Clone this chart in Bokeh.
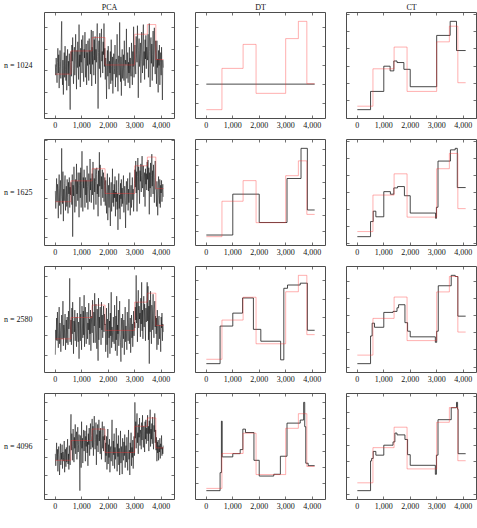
from bokeh.plotting import figure
from bokeh.layouts import gridplot
from bokeh.models import (LinearAxis, FixedTicker, BasicTicker, NumeralTickFormatter,
                          CustomJSTickFormatter, Range1d)
from bokeh.embed import file_html
from bokeh.resources import INLINE

# ---------------- data ----------------
col_titles = ["PCA", "DT", "CT"]
row_labels = ["n = 1024", "n = 1625", "n = 2580", "n = 4096"]
x_ticks = [0, 1000, 2000, 3000, 4000]
x_max = 4096

# true piecewise-constant signal (red)
truth_x = [0, 590, 1390, 1880, 3000, 3480, 3800, 4096]
truth_y = [-0.3, 1.85, 3.1, 0.55, 3.4, 4.3, 1.05, 1.05]

# PCA estimates (noisy), sampled every 16 positions
pca_step = 16
pca_1024 = [
    0.6, -0.4, 1.2, 0.3, -1.1, 0.8, 2.1, -0.2, 1.5, -1.6, 0.4, 1.9, 0.9, -0.7, 2.6, 4.6, 0.2, -1.3, 1.0, -2.2,
    0.5, 1.7, -0.6, 2.3, 0.1, -0.9, 1.4, -1.8, 0.7, 2.0, -0.3, 0.9, -1.4, 1.6, -0.1, -3.6, 0.8,
    1.8, -0.5, 2.4, 0.9, 3.1, 0.2, -1.2, 1.6, 2.2, -0.4, 1.1, 3.4, 0.6, -1.7, 1.9, 0.3, 2.7, 1.0, -0.8, 4.3,
    0.4, 1.5, -1.5, 2.1, 0.8, 2.9, -0.2, 1.3, 3.3, 0.0, -1.0, 2.0, 1.2, 3.6, -0.6, 0.7, 2.5, -1.3, 1.7, 0.5,
    2.8, 1.1, -0.9, 3.0, 0.6, 1.9, -0.3, 2.3, 3.8, -1.4,
    2.2, 0.6, 3.7, 1.4, -0.4, 2.9, 1.0, 3.2, -1.2, 2.0, 0.8, 2.6, 4.4, 1.3, -3.5, 1.7, 2.8, 0.2, 3.5, 1.1,
    -0.6, 2.4, 3.9, 0.9, 1.8, -0.2, 2.7, 1.5, 4.4, 0.4, 2.1,
    -0.8, 1.2, 0.3, -2.6, 0.7, 1.9, -0.5, 2.3, 0.1, -1.7, 0.9, -0.2, 1.8, -1.2, 2.9, 0.4, -0.9, 1.3, -2.1, 0.6,
    1.6, -0.3, 0.2, 2.4, -1.5, 0.8, 1.1, -0.6, 3.4, 0.0, -1.9, 0.7, 1.4, -0.4, 4.5, 0.5, -1.0, 1.3, -2.3, 0.9,
    2.0, -0.7, 0.3, 1.5, -0.9, 2.8, 0.2, -1.4, 1.0, 0.6, 3.9, -0.7, 0.4, 1.7, -1.1, 0.8, -0.2, 2.2, -1.6, 1.2,
    0.1, -0.5, 2.6, 0.9, -1.3, 1.8, 0.4, 4.1, -0.6, 1.1,
    2.4, 0.7, -0.3, 3.2, 1.5, 0.8, 4.2, 2.0, -2.5, 1.9, 3.0, 0.4, 1.6, 2.6, -1.1, 0.9, 3.6, 1.2, -0.2, 2.7,
    4.3, 0.5, 1.8, -0.8, 2.9, 1.1, 3.3, 0.2, 2.2, 1.4,
    1.0, 3.4, -0.6, 2.1, 4.4, 1.8, -1.5, 2.6, 3.1, 0.7, 2.5, -0.9, 1.5, 3.7, 0.4, 2.3, 4.0, 1.2, -0.3, 2.8,
    1.6, -1.2, 2.8, 0.3, 1.1, -2.0, 1.9, 0.5, 2.4, -1.3, 0.8, 1.7, -0.4, 2.2, 0.0, -2.7, 1.0, 0.3]
pca_1625 = [
    0.8, -1.0, 0.3, 2.1, -0.3, 1.5, 0.6, -2.0, 1.1, 2.5, -0.7, 0.9, 1.9, -1.6, 0.2, 5.2, 0.4, -0.5, 2.8, -2.3,
    1.0, -0.2, 1.6, 2.4, -1.2, 0.4, 1.3, -0.8, 2.0, 0.1, -1.5, 1.7, 0.5, 2.2, -0.9, 1.2, 0.4,
    1.7, 0.2, -0.6, 2.5, -3.9, 1.4, 0.3, 3.3, 1.0, -1.4, 1.2, 2.0, -0.8, 3.6, 0.5, 1.8, -0.2, 2.7, 0.9, -1.9,
    1.4, 2.7, 0.1, 3.2, -0.9, 1.6, 4.9, 0.6, -1.3, 2.2, 1.1, 3.0, 0.7, -0.9, 2.2, 0.4, 1.9, -0.4, 3.4, 1.3,
    -1.1, 0.8, 2.6, 1.5, -0.3, 4.1, 0.9, 2.1, -0.4, 1.6,
    2.6, 0.4, 3.8, 1.0, -1.1, 2.1, 0.7, 3.1, 1.8, -0.6, 2.5, 3.2, 0.5, 1.5, -1.8, 2.9, 0.2, 4.8, 1.3, 3.5,
    0.8, -0.7, 2.3, 1.0, 3.0, 0.1, 1.9, 2.7, -0.3, 1.4, 2.2,
    -0.7, 1.9, 0.4, -1.5, 0.8, 2.6, -2.2, 0.3, 1.4, -0.9, 2.2, -0.3, -2.8, 0.6, 1.7, -1.3, 0.2, 3.1, -0.4, 0.9,
    -0.8, 1.5, 0.1, 2.3, -1.8, 0.7, -0.3, 1.9, -1.1, 0.5, -3.2, 1.2, 2.6, -1.0, 0.4, -2.1, 1.6, 0.0, 2.0, -0.8,
    1.1, -0.5, 0.9, 2.4, -1.4, 0.3, 1.3, -0.2, -3.0, 0.8, 1.8, -0.6, 0.5, 2.1, -1.2, 1.0, -0.4, 0.7, 2.7, -1.7,
    0.2, 1.4, -0.9, 0.6, 2.2, -0.1, 1.0, -1.3, 0.4, 1.6,
    3.0, 1.2, 3.9, 0.6, 2.8, -1.3, 2.3, 4.2, 0.9, 3.3, 1.6, -0.5, 2.9, 1.8, 3.6, 0.7, 2.4, 4.4, 1.1, 2.0,
    3.4, 0.2, 1.9, 2.7, -0.8, 3.1, 1.5, 2.6, 0.9, 3.8,
    2.0, 4.0, 0.8, 3.2, -1.6, 2.7, 1.1, 3.7, 0.2, 2.4, 4.6, 1.3, 2.9, 0.5, 3.5, 1.7, -0.4, 2.2, 3.9, 1.0,
    0.9, -0.8, 1.8, 0.4, -1.7, 1.2, 2.3, 0.3, -0.5, 2.0, -0.9, 1.4, 0.6, 1.9, -0.3, 0.8, 1.5, 0.2]
pca_2580 = [
    -1.9, 0.6, -0.4, 1.8, -0.5, 2.4, 0.2, -1.2, 0.9, 2.9, -0.8, 1.3, 0.5, -1.6, 0.4, 2.1, -0.3, 1.0, 3.5, -1.0,
    1.1, -0.2, 0.8, 2.2, -1.4, 0.3, 1.6, -0.7, 1.9, 0.1, -0.9, 2.5, 0.7, 1.3, 5.8, -0.6, 0.9,
    1.6, -0.9, 2.8, 0.2, 3.4, 0.9, -1.8, 1.5, 0.4, 2.6, -0.5, 1.2, 1.9, -1.1, 0.7, 2.3, 0.1, -0.6, 1.4, -2.3,
    1.0, 3.9, -0.5, 2.2, 0.7, -1.4, 3.0, 1.2, -0.2, 2.5, 0.1, 4.1, -1.1, 1.8, 2.9, 0.5, -0.8, 1.6, 2.4, -0.3,
    1.3, 0.6, 3.3, -0.9, 1.7, 0.2, 2.6, -1.5, 1.1, 2.0,
    0.3, 3.6, 1.2, -0.7, 2.4, 1.0, 4.3, -0.7, 2.0, 3.2, 0.5, -1.3, 2.7, 1.4, -2.5, 3.8, -0.4, 1.9, 0.8, 2.9,
    1.6, -0.9, 3.4, 0.6, 2.1, -0.2, 1.3, 3.0, 0.4, 2.2, 1.1,
    1.2, -1.6, 0.6, 2.8, -0.9, 1.7, -2.2, 0.4, 3.3, -0.2, 1.5, -1.8, 2.3, 0.0, 4.4, -1.2, 0.9, 0.3, -0.6, 1.9,
    0.3, -0.8, 3.1, 0.7, -1.5, 2.0, -0.4, 4.0, -2.0, 1.1, 0.2, 2.6, -1.0, 1.4, 3.5, 0.1, -0.7, -2.6, 1.8, 0.5,
    -1.2, 2.2, 0.8, -0.3, 1.6, -1.9, 0.4, 2.9, -0.6, 1.0, 0.2, -1.4, 2.4, 0.9, -0.5, 1.3, 3.7, -0.8, 0.6, 1.8,
    -1.7, 0.3, 2.1, -0.2, 1.2, -1.1, 0.7, 2.5, 0.0, 1.4,
    0.8, 2.9, 1.6, 6.1, 1.3, 3.4, -0.6, 2.5, 4.6, 0.8, 3.0, 1.7, 2.3, -0.1, 3.8, 1.2, 5.4, 0.5, 2.6, -0.3,
    2.2, 4.0, 0.9, 3.2, 1.9, -0.5, 2.8, 1.4, 3.6, 5.4,
    1.5, 5.0, -0.4, 3.0, -2.8, 3.6, 0.4, 4.5, 1.9, -0.8, 3.1, 2.3, 0.6, 4.2, 1.2, -0.2, 2.7, 3.5, 0.9, 2.0,
    0.2, 1.8, -1.4, 2.6, 0.7, -0.9, 1.5, 2.0, -0.3, 1.1, 0.4, -1.6, 1.9, 0.8, 2.3, -0.5, 1.2, 0.4]
pca_4096 = [
    0.4, -0.9, 0.1, 1.6, -0.3, 0.9, -1.5, 0.3, 1.2, -0.6, -1.9, 0.2, 1.5, -0.8, 0.5, -0.2, 1.4, -1.2, 0.6, 0.0,
    -0.4, 1.8, -1.6, 0.3, 0.9, -1.0, 1.1, -0.5, 0.7, 2.0, -0.7, 0.4, -1.3, 1.3, 0.1, -0.8, 2.9,
    4.7, 0.8, 2.6, 1.2, -0.3, 3.1, 1.7, -0.5, 2.2, 1.0, 3.6, 0.4, 1.9, 2.8, -0.2, 1.3, 3.3, 0.6, 1.4, 2.5,
    0.3, -3.6, 2.4, 1.1, -1.1, 3.9, 1.0, 2.1, -0.6, 1.8, 3.0, 0.7, 1.6, 2.9, -0.4, 2.3, 1.2, 3.5, 0.5, 1.7,
    -0.9, 2.6, 1.4, 3.2, 0.2, 2.0, 3.7, 0.9, 1.5, 2.4,
    4.2, 1.1, 3.4, 0.2, 2.7, 4.5, 1.6, 0.9, 2.0, 3.8, -0.8, 2.5, 1.3, 3.6, 0.6, 2.2, 4.1, 1.8, 2.9, 0.4,
    3.2, 1.5, -0.2, 2.6, 3.9, 1.0, 2.3, 0.7, 3.4, 1.9, 2.4,
    -0.5, 1.6, 0.2, 2.3, -1.3, 0.9, 3.1, -0.7, 1.4, 0.0, 2.0, -1.6, 0.8, 1.2, -0.4, 1.9, 4.1, 0.5, -0.9, 1.8,
    0.3, 2.6, -1.2, 1.1, -0.2, 0.7, 3.2, 0.6, -1.5, 1.5, 0.1, 2.4, -0.8, 1.0, -1.9, 0.8, 2.9, -0.6, 1.2, 0.4,
    -1.8, 2.1, 0.4, -0.3, 1.7, 0.2, 2.5, -1.1, 0.9, 1.3, -0.5, 2.2, 0.6, -1.4, 1.4, 3.0, -0.2, 0.8, -1.9, 1.6,
    0.5, 2.7, -0.9, 1.1, 0.0, 1.9, -1.2, 0.7, 2.3, 0.2,
    6.0, 2.1, 3.9, 1.0, 3.3, 4.8, 1.6, 2.7, 0.4, 3.6, 2.2, 4.3, 1.3, 3.0, 2.5, 0.9, 3.8, 1.9, 4.6, 2.4,
    1.1, 3.4, 2.8, 0.6, 3.9, 2.0, 4.1, 1.5, 3.2, 2.6,
    4.6, 1.8, 3.4, 0.7, 4.0, 2.6, 5.2, 1.2, 3.1, 2.0, 3.7, 1.5, 4.4, 2.3, 0.9, 3.5, 2.8, 4.8, 1.6, 3.0,
    0.8, 2.2, -0.4, 1.7, 0.5, 1.9, -0.3, 1.3, 0.6, 2.1, -0.1, 1.5, 0.9, 2.4, 0.2, 1.1, 0.4, 1.3]

# DT estimates (step functions: change points and levels)
dt_1024_x = [0, 4096]
dt_1024_y = [1.03, 1.03]
dt_1625_x = [0, 1000, 2000, 3050, 3580, 3820, 4096]
dt_1625_y = [-0.2, 2.28, 0.56, 3.23, 5.06, 1.32, 1.32]
dt_2580_x = [0, 520, 1000, 1370, 1780, 2060, 2810, 2930, 3070, 3550, 3820, 4096]
dt_2580_y = [-0.54, 1.52, 2.23, 3.06, 1.34, 0.69, -0.33, 3.59, 3.77, 3.87, 1.29, 1.29]
dt_4096_x = [0, 520, 570, 600, 1000, 1280, 1380, 1480, 1800, 2000, 2550, 2800, 3050, 3550, 3680, 3720, 3760, 3850, 4096]
dt_4096_y = [-0.44, 0.67, 3.84, 1.64, 1.84, 2.09, 3.35, 3.14, 1.43, 0.46, 0.57, 1.68, 3.72, 3.91, 5.0, 3.5, 1.25, 1.1, 1.1]

# CT estimates
ct_1024_x = [0, 500, 1000, 1240, 1380, 1500, 1760, 2000, 3000, 3510, 3750, 4096]
ct_1024_y = [-0.5, 0.55, 2.0, 1.73, 2.3, 2.21, 1.82, 0.82, 3.77, 4.58, 2.9, 2.9]
ct_1625_x = [0, 500, 600, 700, 1000, 1250, 1380, 1520, 1780, 2000, 2960, 2990, 3050, 3520, 3700, 3780, 4096]
ct_1625_y = [-0.6, 0.29, 0.9, 0.57, 2.05, 1.9, 2.27, 2.35, 1.81, 0.79, 0.48, 1.13, 3.85, 4.51, 4.6, 2.29, 2.29]
ct_2580_x = [0, 500, 560, 650, 1000, 1350, 1500, 1560, 1800, 1900, 2000, 2950, 3000, 3060, 3550, 3700, 3800, 4096]
ct_2580_y = [-0.8, 0.82, 1.57, 1.33, 2.2, 2.26, 2.47, 2.65, 1.6, 1.1, 0.77, 0.45, 1.1, 3.76, 4.37, 4.3, 1.98, 1.98]
ct_4096_x = [0, 500, 540, 600, 700, 1000, 1350, 1420, 1500, 1800, 1900, 2000, 2950, 2990, 3050, 3550, 3750, 3790, 3810, 4096]
ct_4096_y = [-0.78, 1.04, 1.19, 1.62, 1.39, 2.0, 2.2, 2.74, 2.63, 2.35, 1.42, 0.77, 0.22, 1.39, 3.56, 4.29, 4.62, 4.2, 1.48, 1.48]

pca_all = [pca_1024, pca_1625, pca_2580, pca_4096]
dt_all = [(dt_1024_x, dt_1024_y), (dt_1625_x, dt_1625_y), (dt_2580_x, dt_2580_y), (dt_4096_x, dt_4096_y)]
ct_all = [(ct_1024_x, ct_1024_y), (ct_1625_x, ct_1625_y), (ct_2580_x, ct_2580_y), (ct_4096_x, ct_4096_y)]

# ---------------- styling ----------------
FONT = "Liberation Serif"
FS = "8px"
FRAME_W, FRAME_H = 130, 106
LEFT = [31, 17, 17]
RIGHT = [2, 2, 2]
FRAME_COL = "#4d4d4d"
RED = "#ff3030"


def blank_axis(axis):
    axis.formatter = CustomJSTickFormatter(code="return ''")
    axis.major_label_text_font_size = "0px"
    axis.major_label_standoff = 0
    axis.major_tick_in = 3
    axis.major_tick_out = 0
    axis.minor_tick_line_color = None
    axis.axis_line_color = None
    axis.major_tick_line_color = FRAME_COL
    axis.major_tick_line_width = 0.8


def make_panel(r, c, ex, ey, is_step):
    vals = list(ey) + truth_y
    lo, hi = min(vals), max(vals)
    pad = 0.1 * (hi - lo)
    y0, y1 = lo - pad, hi + pad
    xpad = 0.1 * x_max
    top = 10 if r == 0 else 0
    bottom = 21 if r < 3 else 13
    p = figure(frame_width=FRAME_W, frame_height=FRAME_H,
               x_range=Range1d(-xpad, x_max + xpad), y_range=Range1d(y0, y1),
               output_backend="svg", toolbar_location=None,
               min_border_left=LEFT[c], min_border_right=RIGHT[c],
               min_border_top=top, min_border_bottom=bottom,
               background_fill_color="white", border_fill_color="white")
    p.xgrid.visible = False
    p.ygrid.visible = False
    p.outline_line_color = FRAME_COL
    p.outline_line_width = 1
    p.outline_line_alpha = 1

    xa = p.xaxis[0]
    xa.ticker = FixedTicker(ticks=x_ticks)
    xa.formatter = NumeralTickFormatter(format="0,0")
    xa.major_label_text_font = FONT
    xa.major_label_text_font_size = FS
    xa.major_label_text_color = "#111111"
    xa.major_label_standoff = 3
    xa.major_tick_in = 3
    xa.major_tick_out = 0
    xa.minor_tick_line_color = None
    xa.axis_line_color = None
    xa.major_tick_line_color = FRAME_COL
    xa.major_tick_line_width = 0.8

    ya = p.yaxis[0]
    ya.ticker = BasicTicker(desired_num_ticks=5)
    blank_axis(ya)

    top_ax = LinearAxis(ticker=FixedTicker(ticks=x_ticks))
    blank_axis(top_ax)
    p.add_layout(top_ax, "above")
    right_ax = LinearAxis(ticker=BasicTicker(desired_num_ticks=5))
    blank_axis(right_ax)
    p.add_layout(right_ax, "right")

    if c == 0:
        lab = LinearAxis(ticker=FixedTicker(ticks=[(y0 + y1) / 2]),
                         formatter=CustomJSTickFormatter(code="return '%s'" % row_labels[r]))
        lab.major_tick_line_color = None
        lab.axis_line_color = None
        lab.minor_tick_line_color = None
        lab.major_label_standoff = 2
        lab.major_label_text_font = FONT
        lab.major_label_text_font_size = FS
        lab.major_label_text_color = "#111111"
        p.add_layout(lab, "left")

    if r == 0:
        p.title.text = col_titles[c]
        p.title.align = "center"
        p.title.text_font = FONT
        p.title.text_font_size = FS
        p.title.text_font_style = "normal"
        p.title.text_color = "#111111"
        p.title.standoff = 1

    if is_step:
        p.step(ex, ey, mode="after", line_color="#1a1a1a", line_width=0.8)
    else:
        p.line(ex, ey, line_color="black", line_width=0.5)
    p.step(truth_x, truth_y, mode="after", line_color=RED, line_width=0.7, line_alpha=0.55)
    return p


rows = []
for r in range(4):
    pv = pca_all[r]
    px = [i * pca_step for i in range(len(pv))]
    p1 = make_panel(r, 0, px, pv, False)
    p2 = make_panel(r, 1, dt_all[r][0], dt_all[r][1], True)
    p3 = make_panel(r, 2, ct_all[r][0], ct_all[r][1], True)
    rows.append([p1, p2, p3])

grid = gridplot(rows, toolbar_location=None)
open("out.html", "w").write(file_html(grid, INLINE))
